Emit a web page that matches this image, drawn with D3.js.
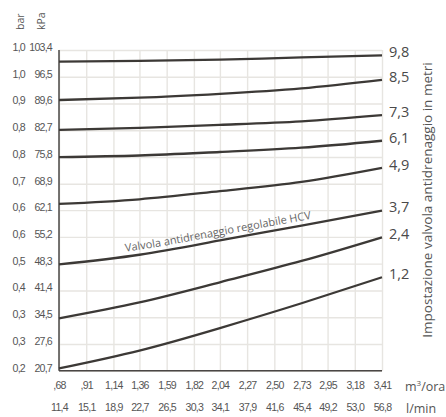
<!DOCTYPE html>
<html>
<head>
<meta charset="utf-8">
<script src="https://cdn.jsdelivr.net/npm/d3@7"></script>
<style>
  body { margin: 0; background: #fff; }
  svg { display: block; font-family: 'Open Sans', sans-serif; }
  .tick-label { fill: #555; font-size: 10.6px; letter-spacing: -0.75px; }
</style>
</head>
<body>
<svg width="446" height="417"></svg>
<script>
// x axis: portata
const flowM3 = [0.68, 0.91, 1.14, 1.36, 1.59, 1.82, 2.04, 2.27, 2.50, 2.73, 2.95, 3.18, 3.41];
const m3Labels = [',68', ',91', '1,14', '1,36', '1,59', '1,82', '2,04', '2,27', '2,50', '2,73', '2,95', '3,18', '3,41'];
const lminLabels = ['11,4', '15,1', '18,9', '22,7', '26,5', '30,3', '34,1', '37,9', '41,6', '45,4', '49,2', '53,0', '56,8'];

// y axis: pressione
const kpaTicks = [20.7, 27.6, 34.5, 41.4, 48.3, 55.2, 62.1, 68.9, 75.8, 82.7, 89.6, 96.5, 103.4];
const kpaLabels = ['20,7', '27,6', '34,5', '41,4', '48,3', '55,2', '62,1', '68,9', '75,8', '82,7', '89,6', '96,5', '103,4'];
const barLabels = ['0,2', '0,3', '0,3', '0,4', '0,5', '0,6', '0,6', '0,7', '0,8', '0,8', '0,9', '1,0', '1,0'];

// curves (kPa read at these flows)
const sampleFlow = [0.68, 1.36, 2.04, 2.73, 3.41];
const setting98 = [100.4, 100.6, 100.9, 101.5, 102.0];
const setting85 = [90.5, 91.1, 92.1, 93.5, 95.7];
const setting73 = [82.8, 83.3, 84.1, 85.0, 86.6];
const setting61 = [75.8, 76.2, 77.1, 78.2, 80.0];
const setting49 = [63.7, 64.9, 67.0, 69.4, 73.0];
const setting37 = [48.1, 50.6, 54.3, 58.1, 62.0];
const setting24 = [34.2, 38.3, 43.5, 49.0, 55.1];
const setting12 = [21.3, 25.9, 31.7, 38.1, 44.8];
const settingNames = ['9,8', '8,5', '7,3', '6,1', '4,9', '3,7', '2,4', '1,2'];

const renderChart = () => {
  const svg = d3.select('svg');
  const svgWidth = +svg.attr('width');
  const svgHeight = +svg.attr('height');
  const margin = { top: 50, right: 64, bottom: 46.3, left: 59 };
  const innerWidth = svgWidth - margin.left - margin.right;
  const innerHeight = svgHeight - margin.top - margin.bottom;

  const series = [setting98, setting85, setting73, setting61, setting49, setting37, setting24, setting12]
    .map((values, i) => ({
      name: settingNames[i],
      points: values.map((v, j) => ({ flow: sampleFlow[j], kpa: v }))
    }));

  const xScale = d3.scaleLinear()
    .domain([flowM3[0], flowM3[flowM3.length - 1]])
    .range([0, innerWidth]);
  const yScale = d3.scaleLinear()
    .domain([kpaTicks[0], kpaTicks[kpaTicks.length - 1]])
    .range([innerHeight, 0]);

  const visGroup = svg.append('g')
    .attr('transform', `translate(${margin.left}, ${margin.top})`);

  // grid
  const xGrid = visGroup.append('g')
    .attr('transform', `translate(0, ${innerHeight})`)
    .call(d3.axisBottom(xScale).tickValues(flowM3).tickSize(-innerHeight).tickFormat(''));
  const yGrid = visGroup.append('g')
    .call(d3.axisLeft(yScale).tickValues(kpaTicks).tickSize(-innerWidth).tickFormat(''));
  [xGrid, yGrid].forEach(g => {
    g.select('.domain').remove();
    g.selectAll('line').attr('stroke', '#e7e5e1').attr('stroke-width', 1.4);
  });

  // x labels, two rows
  const xRow1 = visGroup.append('g')
    .attr('transform', `translate(0, ${innerHeight})`)
    .call(d3.axisBottom(xScale).tickValues(flowM3).tickSize(0).tickPadding(11)
      .tickFormat((d, i) => m3Labels[i]));
  const xRow2 = visGroup.append('g')
    .attr('transform', `translate(0, ${innerHeight + 21.5})`)
    .call(d3.axisBottom(xScale).tickValues(flowM3).tickSize(0).tickPadding(11)
      .tickFormat((d, i) => lminLabels[i]));

  // y labels, kPa and bar
  const yKpa = visGroup.append('g')
    .call(d3.axisLeft(yScale).tickValues(kpaTicks).tickSize(0).tickPadding(7)
      .tickFormat((d, i) => kpaLabels[i]));
  const yBar = visGroup.append('g')
    .attr('transform', 'translate(-27, 0)')
    .call(d3.axisLeft(yScale).tickValues(kpaTicks).tickSize(0).tickPadding(7)
      .tickFormat((d, i) => barLabels[i]));
  [xRow1, xRow2, yKpa, yBar].forEach(g => {
    g.select('.domain').remove();
    g.selectAll('text')
      .attr('class', 'tick-label')
      .attr('font-family', null)
      .attr('font-size', null);
  });
  [yKpa, yBar].forEach(g => g.selectAll('text').attr('y', -3));

  // axis lines left & bottom
  visGroup.append('line')
    .attr('x1', 0).attr('x2', 0)
    .attr('y1', 0).attr('y2', innerHeight)
    .attr('stroke', '#4a4745').attr('stroke-width', 1.5);
  visGroup.append('line')
    .attr('x1', 0).attr('x2', innerWidth)
    .attr('y1', innerHeight).attr('y2', innerHeight)
    .attr('stroke', '#4a4745').attr('stroke-width', 1.5);

  // curves
  const lineGen = d3.line()
    .x(p => xScale(p.flow))
    .y(p => yScale(p.kpa))
    .curve(d3.curveNatural);
  visGroup.selectAll('path.curve')
    .data(series)
    .enter()
    .append('path')
      .attr('class', 'curve')
      .attr('d', s => lineGen(s.points))
      .attr('fill', 'none')
      .attr('stroke', '#3c3936')
      .attr('stroke-width', 2.3);

  // setting labels at the right end
  visGroup.selectAll('text.setting')
    .data(series)
    .enter()
    .append('text')
      .attr('class', 'setting')
      .attr('x', innerWidth + 7)
      .attr('y', s => yScale(s.points[s.points.length - 1].kpa) - 2)
      .attr('dominant-baseline', 'middle')
      .attr('fill', '#4a4a4a')
      .attr('font-size', 14.5)
      .text(s => s.name);

  // annotation along the 3,7 curve
  const offsetLine = d3.line()
    .x(p => xScale(p.flow))
    .y(p => yScale(p.kpa) - 5)
    .curve(d3.curveNatural);
  visGroup.append('path')
    .attr('id', 'hcv-path')
    .attr('d', offsetLine(series[5].points))
    .attr('fill', 'none');
  visGroup.append('text')
    .attr('fill', '#666')
    .attr('font-size', 11)
    .append('textPath')
      .attr('href', '#hcv-path')
      .attr('startOffset', 67)
      .text('Valvola antidrenaggio regolabile HCV');

  // units
  svg.append('text')
    .attr('x', 405).attr('y', 391)
    .attr('fill', '#555').attr('font-size', 12.5)
    .html('m<tspan dy="-5" font-size="8">3</tspan><tspan dy="5">/ora</tspan>');
  svg.append('text')
    .attr('x', 406).attr('y', 413)
    .attr('fill', '#555').attr('font-size', 12.5)
    .text('l/min');

  // axis titles
  svg.append('text')
    .attr('transform', 'translate(24, 30) rotate(-90)')
    .attr('fill', '#555').attr('font-size', 10.5)
    .text('bar');
  svg.append('text')
    .attr('transform', 'translate(45, 30) rotate(-90)')
    .attr('fill', '#555').attr('font-size', 10.5)
    .text('kPa');
  svg.append('text')
    .attr('transform', 'translate(432, 200) rotate(-90)')
    .attr('text-anchor', 'middle')
    .attr('fill', '#555').attr('font-size', 13.5)
    .text('Impostazione valvola antidrenaggio in metri');
};

renderChart();
</script>
</body>
</html>
